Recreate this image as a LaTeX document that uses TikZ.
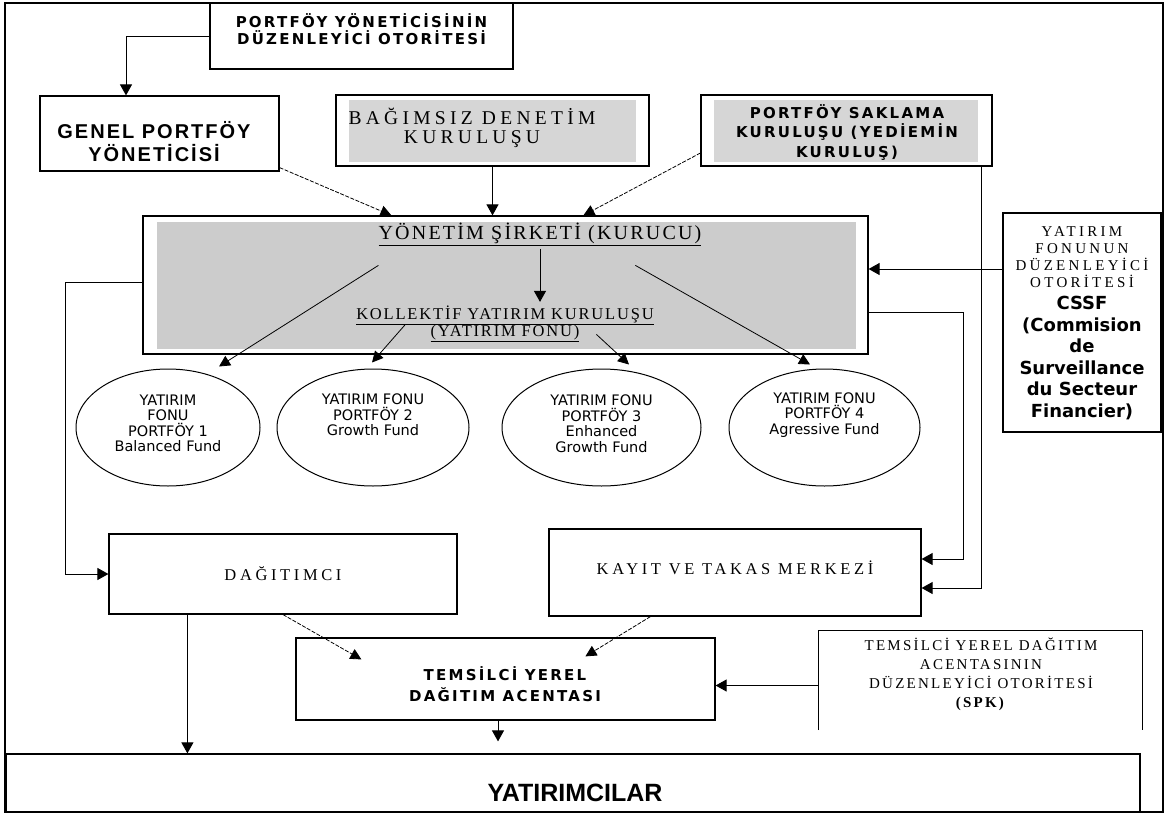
\documentclass[tikz,border=0pt]{standalone}
\usepackage{fontspec}
\usepackage{xcolor}
\usepackage{tikz}
\usetikzlibrary{arrows.meta,shapes.geometric}
\setmainfont{Liberation Serif}
\newfontfamily\vsans{DejaVu Sans}
\newfontfamily\vsansls[LetterSpace=15]{DejaVu Sans}
\newfontfamily\asans{Liberation Sans}
\newfontfamily\asansls[LetterSpace=10]{Liberation Sans}
\newfontfamily\serifls[LetterSpace=22]{Liberation Serif}
\newfontfamily\serifmid[LetterSpace=15]{Liberation Serif}
\newfontfamily\seriftight[LetterSpace=11]{Liberation Serif}
\definecolor{lightgrey}{RGB}{214,214,214}
\definecolor{midgrey}{RGB}{204,204,204}

\begin{document}
\begin{tikzpicture}[x=1pt,y=-1pt,
  box/.style={draw,line width=1.2pt,inner sep=0pt},
  fund/.style={draw,ellipse,line width=1pt,inner sep=0pt,minimum height=117pt},
  fundtext/.style={font=\fontsize{14.5}{15.5}\vsans,align=center,inner sep=0pt},
  boldsans/.style={font=\fontsize{15}{19.5}\vsansls\bfseries,align=center,inner sep=0pt},
  arr/.style={line width=1pt,-{Triangle[length=11pt,width=12pt]}},
  thinarr/.style={line width=0.8pt,-{Triangle[length=11pt,width=11pt]}},
  dasharr/.style={thinarr,dash pattern=on 4pt off 1.5pt}]
\useasboundingbox (0,0) rectangle (1165,817);
\draw[line width=2.5pt] (5,3) rectangle (1163,812);

\node(T1) [box,minimum width=303pt,minimum height=66pt] at (361.5,36) {};
\node(T1t) [boldsans,font=\fontsize{15}{17}\vsansls\bfseries] at (361.5,29.5) {PORTFÖY YÖNETİCİSİNİN\\DÜZENLEYİCİ OTORİTESİ};
\node(G1) [box,minimum width=239pt,minimum height=75pt] at (159.5,133.5) {};
\node(G1t) [font=\fontsize{20}{23}\asansls\bfseries,align=center] at (154,141.5) {GENEL PORTFÖY\\YÖNETİCİSİ};
\node(B1) [box,minimum width=313pt,minimum height=71pt] at (492.5,130.5) {};
\fill[lightgrey] ([shift={(14pt,-6pt)}]B1.north west) rectangle ([shift={(-14pt,5pt)}]B1.south east);
\node(B1t) [font=\fontsize{19.5}{19}\serifls,align=center] at (472,127.5) {BAĞIMSIZ DENETİM\\KURULUŞU};
\node(S1) [box,minimum width=291pt,minimum height=71pt] at (846.5,130.5) {};
\fill[lightgrey] ([shift={(14pt,-6pt)}]S1.north west) rectangle ([shift={(-15pt,5pt)}]S1.south east);
\node(S1t) [boldsans] at (847,132.5) {PORTFÖY SAKLAMA\\KURULUŞU (YEDİEMİN\\KURULUŞ)};

\node(Y1) [box,minimum width=725pt,minimum height=138pt] at (505.5,285) {};
\fill[midgrey] ([shift={(15pt,-7pt)}]Y1.north west) rectangle ([shift={(-13pt,6pt)}]Y1.south east);
\node(Y2) [font=\fontsize{20}{20}\seriftight] at (540,234) {\underline{YÖNETİM ŞİRKETİ (KURUCU)}};
\node(K1) [font=\fontsize{16.5}{17}\seriftight,align=center] at (505,323.5) {\underline{KOLLEKTİF YATIRIM KURULUŞU}\\\underline{(YATIRIM FONU)}};
\node(R1) [box,minimum width=158pt,minimum height=219pt] at (1082,322.5) {};
\node(R1a) [font=\fontsize{15}{17}\serifls,align=center] at (1082,257.5) {YATIRIM\\FONUNUN\\DÜZENLEYİCİ\\OTORİTESİ};
\node(R1b) [font=\fontsize{18}{21.5}\vsans\bfseries,align=center] at (1082,358) {CSSF\\(Commision\\de\\Surveillance\\du Secteur\\Financier)};

\node(F1) [fund,minimum width=184pt] at (168,427.5) {};
\node(F2) [fund,minimum width=192pt] at (373,427.5) {};
\node(F3) [fund,minimum width=199pt] at (601.5,427.5) {};
\node(F4) [fund,minimum width=191pt] at (824.5,427.5) {};
\node(F1t) [fundtext] at (168,423.5) {YATIRIM\\FONU\\PORTFÖY 1\\Balanced Fund};
\node(F2t) [fundtext] at (373,415) {YATIRIM FONU\\PORTFÖY 2\\Growth Fund};
\node(F3t) [fundtext] at (601.5,423.5) {YATIRIM FONU\\PORTFÖY 3\\Enhanced\\Growth Fund};
\node(F4t) [fundtext] at (824.5,415) {YATIRIM FONU\\PORTFÖY 4\\Agressive Fund};

\node(D1) [box,minimum width=348pt,minimum height=80pt,font=\fontsize{16.5}{18}\serifls] at (283,574) {DAĞITIMCI};
\node(M1) [box,minimum width=372pt,minimum height=87pt] at (735,572.5) {};
\node(M1t) [font=\fontsize{16.5}{18}\serifls] at (735,568) {KAYIT VE TAKAS MERKEZİ};
\node(A1) [box,minimum width=419pt,minimum height=82pt] at (505.5,679) {};
\node(A1t) [boldsans,font=\fontsize{15}{21}\vsansls\bfseries] at (505,684.5) {TEMSİLCİ YEREL\\DAĞITIM ACENTASI};
\node(R2) [inner sep=0pt,minimum width=323pt,minimum height=99pt] at (980.5,680.5) {};
\draw[line width=1.2pt] (R2.south west) -- (R2.north west) -- (R2.north east) -- (R2.south east);
\node(R2t) [font=\fontsize{15}{19}\serifmid,align=center] at (981,674.5) {TEMSİLCİ YEREL DAĞITIM\\ACENTASININ\\DÜZENLEYİCİ OTORİTESİ\\\textbf{(SPK)}};
\node(I1) [box,minimum width=1134pt,minimum height=58pt] at (573,783) {};
\node(I1t) [font=\fontsize{25}{28}\asans\bfseries] at (575,793) {YATIRIMCILAR};

\draw[arr] (T1.west) -| ([xshift=-33.5pt]G1.north);
\draw[dasharr] ([yshift=4pt]G1.south east) -- ([xshift=249pt]Y1.north west);
\draw[arr] (B1.south) -- (B1.south |- Y1.north);
\draw[dasharr] ([yshift=-22.5pt]S1.west) -- ([xshift=441pt]Y1.north west);
\draw[arr] ([yshift=53.5pt]R1.west) -- ([yshift=53.5pt]R1.west -| Y1.east);
\draw[arr] ([xshift=-11pt]S1.south east) |- ([yshift=-15.5pt]M1.east);
\draw[arr] ([yshift=-97pt]Y1.north east) -| ([xshift=42pt,yshift=13.5pt]M1.east) -- ([yshift=13.5pt]M1.east);
\draw[arr] ([yshift=-67pt]Y1.north west) -| ([xshift=-43pt]D1.west) -- (D1.west);
\draw[arr] (Y2.south) -- (Y2.south |- K1.north);
\draw[thinarr] ([shift={(236pt,-50pt)}]Y1.north west) -- ([shift={(51pt,2pt)}]F1.north);
\draw[thinarr] ([shift={(263pt,-109pt)}]Y1.north west) -- ([shift={(-1pt,6pt)}]F2.north);
\draw[thinarr] ([shift={(454pt,-119pt)}]Y1.north west) -- ([shift={(27.5pt,4pt)}]F3.north);
\draw[thinarr] ([shift={(493pt,-50pt)}]Y1.north west) -- ([shift={(-14.5pt,4pt)}]F4.north);
\draw[arr] ([xshift=79pt]D1.south west) -- ([xshift=79pt]D1.south west |- I1.north);
\draw[dasharr] (D1.south) -- ([shift={(66pt,-22pt)}]A1.north west);
\draw[dasharr] ([xshift=102pt]M1.south west) -- ([shift={(290pt,-19pt)}]A1.north west);
\draw[arr] ([yshift=-5pt]R2.west) -- ([yshift=-5pt]R2.west -| A1.east);
\draw[arr,shorten >=12pt] ([xshift=-7.5pt]A1.south) -- ([xshift=-7.5pt]A1.south |- I1.north);
\end{tikzpicture}
\end{document}
